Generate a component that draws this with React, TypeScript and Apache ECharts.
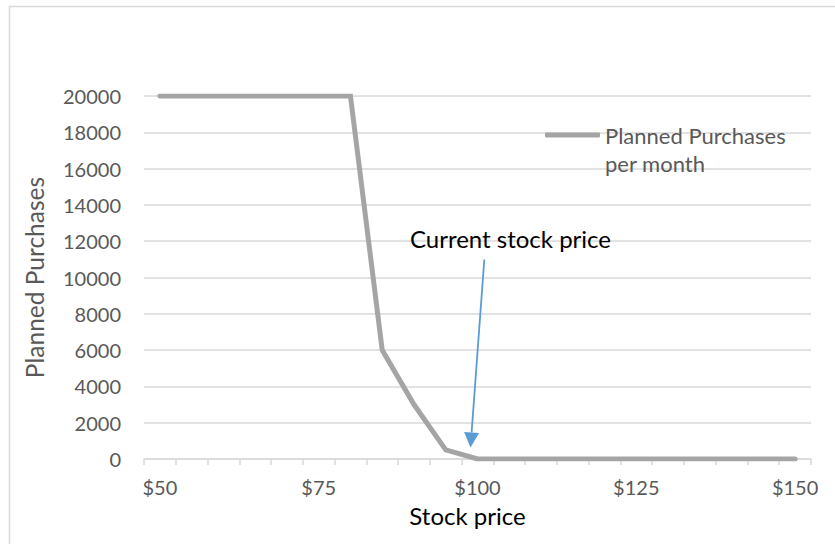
import React, { useEffect, useRef } from "react";
import * as echarts from "echarts";

// Stock price steps on the horizontal axis
const prices = [
  "$50", "$55", "$60", "$65", "$70", "$75", "$80", "$85", "$90", "$95", "$100",
  "$105", "$110", "$115", "$120", "$125", "$130", "$135", "$140", "$145", "$150",
];

// Planned purchases per month at each price
const plannedPurchases = [
  20000, 20000, 20000, 20000, 20000, 20000, 20000, 6000, 3000, 500, 0,
  0, 0, 0, 0, 0, 0, 0, 0, 0, 0,
];

const seriesName = "Planned Purchases\nper month";
const yMin = 0;
const yMax = 20000;
const yStep = 2000;

const FONT = "Lato, 'Open Sans', sans-serif";
const GREY_TEXT = "#595959";
const GRID_GREY = "#D9D9D9";
const LINE_GREY = "#A5A5A5";

export default function App() {
  const ref = useRef<HTMLDivElement>(null);

  useEffect(() => {
    if (!ref.current) return;
    const chart = echarts.init(ref.current, undefined, { renderer: "svg" });

    // arrow pointing at the current price
    const arrowTop = [484.3, 259.5];
    const arrowTip = [470.5, 447.5];
    const dx = arrowTip[0] - arrowTop[0];
    const dy = arrowTip[1] - arrowTop[1];
    const len = Math.hypot(dx, dy);
    const ux = dx / len;
    const uy = dy / len;
    const headLen = 15;
    const headHalf = 7.5;
    const bx = arrowTip[0] - ux * headLen;
    const by = arrowTip[1] - uy * headLen;

    chart.setOption({
      animation: false,
      backgroundColor: "#ffffff",
      textStyle: { fontFamily: FONT },
      grid: { left: 144, right: 24, top: 96, bottom: 85, containLabel: false },
      legend: {
        left: 545,
        top: 93,
        padding: 0,
        itemWidth: 55,
        itemHeight: 5,
        itemGap: 5,
        // a blank first line keeps the legend line level with the first text line
        formatter: (name: string) => "\n" + name,
        textStyle: {
          fontFamily: FONT,
          fontSize: 22,
          color: GREY_TEXT,
          lineHeight: 28,
        },
        data: [
          {
            name: seriesName,
            icon: "roundRect",
            itemStyle: { color: LINE_GREY },
          },
        ],
      },
      xAxis: {
        type: "category",
        data: prices,
        boundaryGap: true,
        name: "Stock price",
        nameLocation: "middle",
        nameGap: 44,
        nameTextStyle: {
          fontFamily: FONT,
          fontSize: 24,
          color: "#000000",
          padding: [0, 20, 0, 0],
        },
        axisLine: { lineStyle: { color: GRID_GREY, width: 1.5 } },
        axisTick: {
          show: true,
          interval: 0,
          length: 6,
          lineStyle: { color: GRID_GREY, width: 1.5 },
        },
        axisLabel: {
          interval: 4,
          margin: 18,
          fontFamily: FONT,
          fontSize: 20,
          color: GREY_TEXT,
        },
        splitLine: { show: false },
      },
      yAxis: {
        type: "value",
        min: yMin,
        max: yMax,
        interval: yStep,
        name: "Planned Purchases",
        nameLocation: "middle",
        nameGap: 97,
        nameTextStyle: { fontFamily: FONT, fontSize: 24.5, color: GREY_TEXT },
        axisLine: { show: false },
        axisTick: { show: false },
        axisLabel: {
          margin: 23,
          fontFamily: FONT,
          fontSize: 20,
          color: GREY_TEXT,
          formatter: (v: number) => String(v),
        },
        splitLine: { lineStyle: { color: GRID_GREY, width: 1.5 } },
      },
      series: [
        {
          name: seriesName,
          type: "line",
          data: plannedPurchases,
          showSymbol: false,
          symbol: "none",
          lineStyle: { color: LINE_GREY, width: 5, cap: "round", join: "miter" },
          itemStyle: { color: LINE_GREY },
          z: 3,
        },
      ],
      graphic: [
        {
          type: "rect",
          silent: true,
          shape: { x: 9.5, y: 6.5, width: 1000, height: 1000 },
          style: { fill: "none", stroke: GRID_GREY, lineWidth: 1.5 },
          z: -1,
        },
        {
          type: "text",
          x: 510.5,
          y: 238,
          style: {
            text: "Current stock price",
            font: `24px ${FONT}`,
            fill: "#000000",
            textAlign: "center",
            textVerticalAlign: "middle",
          },
          z: 10,
        },
        {
          type: "line",
          shape: { x1: arrowTop[0], y1: arrowTop[1], x2: bx, y2: by },
          style: { stroke: "#5B9BD5", lineWidth: 1.8 },
          z: 10,
        },
        {
          type: "polygon",
          shape: {
            points: [
              [arrowTip[0], arrowTip[1]],
              [bx - uy * headHalf, by + ux * headHalf],
              [bx + uy * headHalf, by - ux * headHalf],
            ],
          },
          style: { fill: "#5B9BD5" },
          z: 10,
        },
      ],
    });

    return () => chart.dispose();
  }, []);

  return (
    <div
      ref={ref}
      style={{ position: "absolute", left: 0, top: 0, width: 835, height: 544 }}
    />
  );
}
